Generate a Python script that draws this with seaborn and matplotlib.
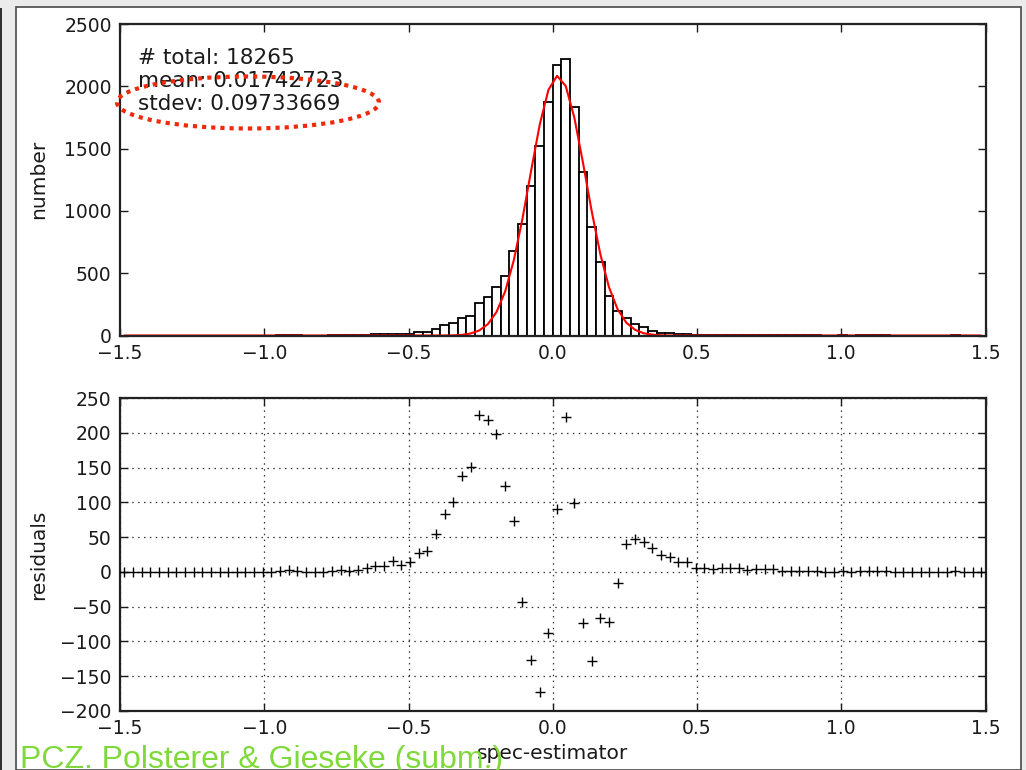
import numpy as np
import pandas as pd
import seaborn as sns
import matplotlib
matplotlib.use("Agg")
import matplotlib.pyplot as plt
from matplotlib.patches import Rectangle, Ellipse
from matplotlib import font_manager

# ---------------- data ----------------
bin_lo, bin_hi, n_bins = -1.5, 1.5, 100

# histogram counts per bin (bins of width 0.03 from -1.5 to 1.5)
hist_counts = [
    0, 0, 0, 0, 0, 0, 0, 0, 0, 0,
    0, 0, 0, 0, 0, 0, 0, 0, 1, 2,
    1, 0, 0, 0, 1, 3, 1, 3, 6, 9,
    9, 16, 10, 15, 27, 30, 52, 82, 101, 142,
    160, 262, 310, 387, 475, 681, 895, 1197, 1522, 1875,
    2169, 2217, 1837, 1309, 871, 590, 315, 195, 138, 94,
    67, 40, 24, 22, 14, 14, 6, 6, 4, 5,
    5, 5, 3, 4, 4, 4, 1, 1, 1, 1,
    1, 0, 0, 1, 0, 1, 1, 1, 1, 0,
    0, 0, 0, 0, 0, 0, 1, 0, 0, 0,
]

# fitted gaussian (red curve) evaluated at the bin centres
fit_values = [
    0, 0, 0, 0, 0, 0, 0, 0, 0, 0,
    0, 0, 0, 0, 0, 0, 0, 0, 0, 0,
    0, 0, 0, 0, 0, 0, 0, 0, 0, 0,
    0, 0, 0, 0, 0, 0, 0, 0.3, 1.3, 5,
    16, 40, 91, 188, 353, 604, 937, 1322, 1694, 1971,
    2084, 2002, 1747, 1384, 997, 652, 387, 209, 103, 46,
    18, 7, 2, 0.5, 0, 0, 0, 0, 0, 0,
    0, 0, 0, 0, 0, 0, 0, 0, 0, 0,
    0, 0, 0, 0, 0, 0, 0, 0, 0, 0,
    0, 0, 0, 0, 0, 0, 0, 0, 0, 0,
]

# residuals (histogram - fit) per bin
residuals = [
    0, 0, 0, 0, 0, 0, 0, 0, 0, 0,
    0, 0, 0, 0, 0, 0, 0, 0, 1.4, 2.4,
    1.4, 0, 0, 0, 1.4, 3.4, 1.4, 3.4, 6.3, 8.7,
    8.7, 15.9, 9.6, 14.9, 26.9, 29.8, 54.8, 82.7, 101, 137.5,
    151, 225, 219, 198, 123, 72.6, -42.8, -126, -172.6, -87.5,
    91, 222, 99, -73, -128, -67, -72, -16, 40, 48,
    43, 34, 24, 22, 14.4, 14.4, 6.3, 6.3, 3.8, 5.3,
    5.3, 5.3, 2.9, 3.8, 3.8, 3.8, 1.4, 1.4, 1.4, 1.4,
    1.4, 0, 0, 1.4, 0, 1.4, 1.4, 1.4, 1.4, 0,
    0, 0, 0, 0, 0, 0, 1.4, 0, 0, 0,
]

stats_lines = ["# total: 18265", "mean: 0.01742723", "stdev: 0.09733669"]
x_ticks = [-1.5, -1.0, -0.5, 0.0, 0.5, 1.0, 1.5]
hist_yticks = [0, 500, 1000, 1500, 2000, 2500]
resid_yticks = [-200, -150, -100, -50, 0, 50, 100, 150, 200, 250]
credit_text = "PCZ. Polsterer & Gieseke (subm.)"

# ---------------- build frames ----------------
edges = np.linspace(bin_lo, bin_hi, n_bins + 1)
centers = 0.5 * (edges[:-1] + edges[1:])
df = pd.DataFrame({"x": centers, "count": hist_counts,
                   "fit": fit_values, "resid": residuals})

# ---------------- style ----------------
sns.set_style("ticks")
plt.rcParams["font.family"] = ["DejaVu Sans"]
plt.rcParams["xtick.labelsize"] = 13.5
plt.rcParams["ytick.labelsize"] = 13.5
plt.rcParams["axes.labelsize"] = 14.5
plt.rcParams["text.color"] = "#1a1a1a"
plt.rcParams["xtick.color"] = "#1a1a1a"
plt.rcParams["ytick.color"] = "#1a1a1a"
plt.rcParams["axes.labelcolor"] = "#1a1a1a"

W, H = 1026, 770
fig = plt.figure(figsize=(W / 100, H / 100), dpi=100)
fig.patch.set_facecolor("#ebebeb")

def fx(px):
    return px / W

def fy(py):
    return 1 - py / H

# slide panel
fig.add_artist(Rectangle((fx(16), 0), fx(1021) - fx(16), fy(7),
                         transform=fig.transFigure, facecolor="white",
                         edgecolor="#555555", linewidth=1.3, zorder=-10))
fig.add_artist(Rectangle((0, 0), fx(1.6), fy(8),
                         transform=fig.transFigure, facecolor="#333333",
                         edgecolor="none", zorder=-9))

ax1 = fig.add_axes([fx(120), fy(335.5), fx(985.5) - fx(120), fy(24) - fy(335.5)])
ax2 = fig.add_axes([fx(120), fy(711), fx(985.5) - fx(120), fy(398) - fy(711)])
for ax in (ax1, ax2):
    ax.set_facecolor("white")

# histogram
sns.histplot(data=df, x="x", weights="count", bins=n_bins,
             binrange=(bin_lo, bin_hi), color="white",
             edgecolor="black", linewidth=1.3, alpha=1, ax=ax1)
sns.lineplot(data=df, x="x", y="fit", color="red", linewidth=1.5, ax=ax1)
ax1.set_xlim(bin_lo, bin_hi)
ax1.set_ylim(0, 2500)
ax1.set_xticks(x_ticks)
ax1.set_yticks(hist_yticks)
ax1.set_xlabel("")
ax1.set_ylabel("number")
ax1.text(0.021, 0.924, "\n".join(stats_lines), transform=ax1.transAxes,
         ha="left", va="top", fontsize=15.5, linespacing=1.2, color="#1a1a1a")

# residuals
sns.scatterplot(data=df, x="x", y="resid", marker="+", color="black",
                s=50, linewidth=1.0, ax=ax2, zorder=3)
ax2.set_xlim(bin_lo, bin_hi)
ax2.set_ylim(-200, 250)
ax2.set_xticks(x_ticks)
ax2.set_yticks(resid_yticks)
ax2.grid(True, linestyle=(0, (1.2, 3.5)), color="#333333", linewidth=0.9)
ax2.set_axisbelow(True)
ax2.set_xlabel("spec-estimator", labelpad=4)
ax2.set_ylabel("residuals")

for ax in (ax1, ax2):
    ax.tick_params(direction="in", top=True, right=True, length=6,
                   width=1.0, pad=6, colors="#1a1a1a")
    for sp in ax.spines.values():
        sp.set_linewidth(1.6)
        sp.set_color("#222222")
        sp.set_visible(True)
    ax.yaxis.set_label_coords(-0.083, 0.5)

# red dotted ellipse highlight
fig.add_artist(Ellipse((fx(248), fy(102.5)), fx(262), 52 / H,
                       transform=fig.transFigure, fill=False,
                       edgecolor="#ee2a0a", linewidth=3,
                       linestyle=(0, (1, 1.2)), zorder=20))

# credit text
names = {f.name for f in font_manager.fontManager.ttflist}
credit_family = "Liberation Sans Narrow" if "Liberation Sans Narrow" in names else "Liberation Sans"
credit_size = 27.5 if credit_family == "Liberation Sans Narrow" else 23
fig.text(fx(20), fy(768), credit_text, fontsize=credit_size,
         family=[credit_family, "DejaVu Sans"], color="#7fd93a",
         ha="left", va="baseline", zorder=21)

fig.savefig("out.png", dpi=100, facecolor=fig.get_facecolor())
